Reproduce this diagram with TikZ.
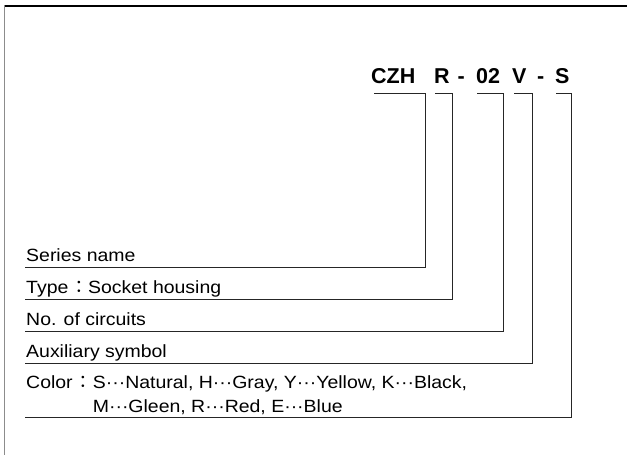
\documentclass[tikz,border=0pt]{standalone}
\usepackage{fontspec}
\newfontfamily\lab{Liberation Sans}[FakeStretch=1.1]
\newfontfamily\ttl{Liberation Sans}
\newfontfamily\jp{Noto Sans CJK JP}
\newcommand{\dts}{\textperiodcentered\textperiodcentered\textperiodcentered}
\newcommand{\fcolon}{{\jp ：}}
\begin{document}
\begin{tikzpicture}[x=1pt,y=-1pt,
  title/.style={anchor=base west,inner sep=0pt,font=\ttl\bfseries\fontsize{21.5}{24}\selectfont},
  label/.style={anchor=base west,inner sep=0pt,font=\lab\fontsize{17.7}{24}\selectfont},
  bracket/.style={draw=black!85,line width=0.8pt},
  frametop/.style={draw=black,line width=1.4pt},
  frameleft/.style={draw=black!45,line width=1.8pt}]
\useasboundingbox (0,0) rectangle (627,455);
% frame
\draw[frametop] (4,6) -- (627,6);
\draw[frameleft] (4.5,5.3) -- (4.5,455);
% title parts
\node[title] (czh) at (371,83) {CZH};
\node[title] (r) at (434,83) {R};
\node[title] (d1) at (457.5,83) {-};
\node[title] (n02) at (476,83) {02};
\node[title] (v) at (512,83) {V};
\node[title] (d2) at (537,83) {-};
\node[title] (s) at (555,83) {S};
% labels
\node[label] (l1) at (26,261) {Series name};
\node[label] (l2) at (26,293) {Type\hspace{2pt}\fcolon Socket housing};
\node[label] (l3) at (26,325) {No. of circuits};
\node[label] (l4) at (26,357) {Auxiliary symbol};
\node[label] (l5k) at (26,388) {Color\hspace{2pt}\fcolon};
\node[label] (l5) at (l5k.base east) {S\dts Natural, H\dts Gray, Y\dts Yellow, K\dts Black,};
\node[label] (l6) at ([yshift=-24pt]l5.base west) {M\dts Gleen, R\dts Red, E\dts Blue};
% corners
\coordinate (c1) at (425,267);
\coordinate (c2) at (452,299);
\coordinate (c3) at (503,331);
\coordinate (c4) at (532,363);
\coordinate (c5) at (571,417);
% brackets
\draw[bracket] ([shift={(3,10)}]czh.base west) -| (c1) -- (c1 -| 25,0);
\draw[bracket] ([shift={(1,10)}]r.base west) -| (c2) -- (c2 -| 25,0);
\draw[bracket] ([shift={(1,10)}]n02.base west) -| (c3) -- (c3 -| 25,0);
\draw[bracket] ([shift={(2,10)}]v.base west) -| (c4) -- (c4 -| 25,0);
\draw[bracket] ([shift={(1,10)}]s.base west) -| (c5) -- (c5 -| 25,0);
\end{tikzpicture}
\end{document}
